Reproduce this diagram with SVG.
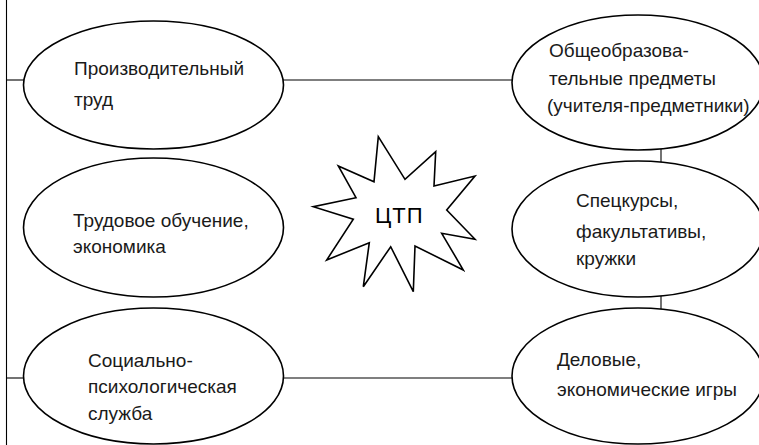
<svg xmlns="http://www.w3.org/2000/svg" width="759" height="445" viewBox="0 0 759 445">
<style>
.n ellipse{fill:#fff;stroke:#000;stroke-width:1.6}
.t{font-family:"Liberation Sans",Arial,sans-serif;font-size:19px;fill:#1a1a1a}
.c line{stroke:#000;stroke-width:1.1}
.star{fill:#fff;stroke:#000;stroke-width:1.6;stroke-linejoin:miter}
</style>
<rect width="759" height="445" fill="#fff"/>
<g class="c" id="connectors">
<line x1="6.5" y1="0" x2="6.5" y2="445"/>
<line x1="6.5" y1="80" x2="30" y2="80"/>
<line x1="278" y1="80" x2="518" y2="80"/>
<line x1="6.5" y1="378" x2="30" y2="378"/>
<line x1="278" y1="378" x2="518" y2="378"/>
<line x1="661" y1="145" x2="661" y2="166"/>
<line x1="661" y1="292" x2="661" y2="313"/>
</g>
<g class="n" id="n-proizv">
<ellipse cx="153.5" cy="85" rx="130" ry="64"/>
<text class="t" x="74" y="75">Производительный</text>
<text class="t" x="74" y="106">труд</text>
</g>
<g class="n" id="n-trud">
<ellipse cx="153.5" cy="227.5" rx="130" ry="69.5"/>
<text class="t" x="73" y="227">Трудовое обучение,</text>
<text class="t" x="73" y="253">экономика</text>
</g>
<g class="n" id="n-soc">
<ellipse cx="153.5" cy="376" rx="130" ry="68"/>
<text class="t" x="88" y="367">Социально-</text>
<text class="t" x="88" y="393">психологическая</text>
<text class="t" x="88" y="420">служба</text>
</g>
<g class="n" id="n-obsh">
<ellipse cx="638" cy="82.5" rx="126" ry="67.5"/>
<text class="t" x="549" y="57">Общеобразова-</text>
<text class="t" x="549" y="85">тельные предметы</text>
<text class="t" x="547" y="112">(учителя-предметники)</text>
</g>
<g class="n" id="n-spec">
<ellipse cx="638" cy="229" rx="126" ry="68"/>
<text class="t" x="576" y="207">Спецкурсы,</text>
<text class="t" x="576" y="238">факультативы,</text>
<text class="t" x="576" y="265">кружки</text>
</g>
<g class="n" id="n-del">
<ellipse cx="638" cy="376" rx="126" ry="68"/>
<text class="t" x="557" y="366">Деловые,</text>
<text class="t" x="557" y="396">экономические игры</text>
</g>
<g id="n-ctp">
<polygon class="star" points="378.3,136.7 405,179.3 435.7,151.7 434,186 475,176 446.7,210 475,239.3 441.7,233.3 463.3,270 415,246 413.3,291.7 390.7,246.7 363.3,286.7 369.3,242.7 326.7,260 353.3,219.3 313.3,206.7 356,197.7 338.3,166 374,181.7"/>
<text x="375" y="223" style="font-family:'Liberation Sans',Arial,sans-serif;font-size:22px;letter-spacing:1px;fill:#000">ЦТП</text>
</g>
</svg>
